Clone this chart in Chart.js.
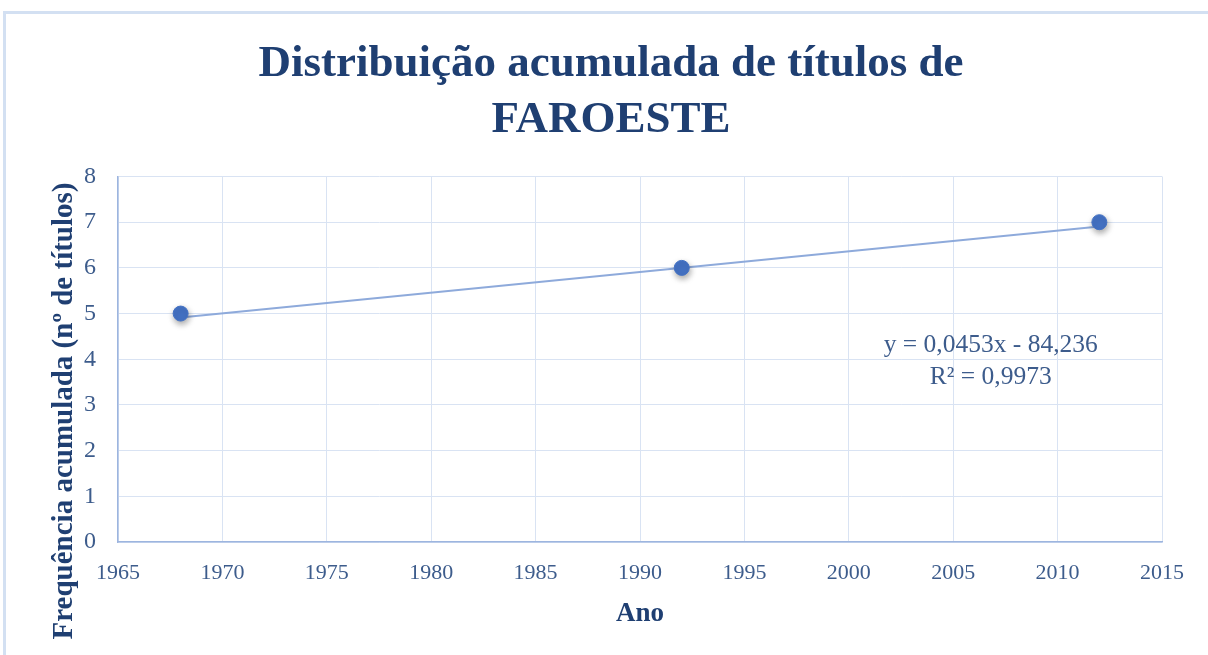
<!DOCTYPE html>
<html>
<head>
<meta charset="utf-8">
<script src="https://cdn.jsdelivr.net/npm/chart.js"></script>
<style>
  body { margin: 0; background: #fff; }
  #frame { position: absolute; left: 3px; top: 11px; width: 1220px; height: 700px;
           border-top: 3px solid #d3e0f2; border-left: 3px solid #d3e0f2; }
  #wrap { position: absolute; left: 0; top: 0; width: 1208px; height: 655px; }
</style>
</head>
<body>
<div id="frame"></div>
<div id="wrap"><canvas id="myChart"></canvas></div>
<script>
    const years = [1968, 1992, 2012];
    const counts = [5, 6, 7];
    const xMin = 1965, xMax = 2015, xStep = 5;
    const yMin = 0, yMax = 8, yStep = 1;
    const trendSlope = 0.0453;
    const trendIntercept = -84.236;
    const trendText = ['y = 0,0453x - 84,236', 'R² = 0,9973'];
    const trendTextAt = {x: 2006.8, y: 4.31};

    const titleLines = ['Distribuição acumulada de títulos de', 'FAROESTE'];
    const xTitle = 'Ano';
    const yTitle = 'Frequência acumulada (nº de títulos)';

    const serif = "'Liberation Serif', 'DejaVu Serif', serif";
    const dark = '#1f3f72';
    const tickColor = '#3d5c8c';

    const points = years.map((x, i) => ({x: x, y: counts[i]}));
    const trendEnds = [years[0], years[years.length - 1]].map(x => ({x: x, y: trendSlope * x + trendIntercept}));

    const shadowPlugin = {
        id: 'shadow',
        beforeDatasetDraw(chart, args) {
            if (args.index !== 0) return;
            const ctx = chart.ctx;
            ctx.save();
            ctx.shadowColor = 'rgba(0,0,0,0.35)';
            ctx.shadowBlur = 6;
            ctx.shadowOffsetX = 1;
            ctx.shadowOffsetY = 3;
        },
        afterDatasetDraw(chart, args) {
            if (args.index === 0) chart.ctx.restore();
        }
    };

    const textPlugin = {
        id: 'texts',
        afterDraw(chart) {
            const ctx = chart.ctx;
            const xs = chart.scales.x, ys = chart.scales.y;
            ctx.save();
            // trendline equation
            ctx.fillStyle = tickColor;
            ctx.font = '25.5px ' + serif;
            ctx.textAlign = 'center';
            ctx.textBaseline = 'middle';
            const ex = xs.getPixelForValue(trendTextAt.x);
            const ey = ys.getPixelForValue(trendTextAt.y);
            trendText.forEach((t, i) => ctx.fillText(t, ex, ey + i * 32));
            // y axis title
            ctx.fillStyle = dark;
            ctx.font = 'bold 29px ' + serif;
            ctx.translate(65, 411);
            ctx.rotate(-Math.PI / 2);
            ctx.fillText(yTitle, 0, 0);
            ctx.restore();
        }
    };

    const ctx = document.getElementById('myChart');
    const myChart = new Chart(ctx, {
        type: 'scatter',
        data: {
            datasets: [{
                label: 'Faroeste',
                data: points,
                backgroundColor: '#4472c4',
                borderColor: '#4472c4',
                pointRadius: 7.5,
                pointHoverRadius: 7.5,
                order: 0
            }, {
                label: 'Tendência',
                type: 'line',
                data: trendEnds,
                borderColor: '#8eaadb',
                borderWidth: 2,
                pointRadius: 0,
                fill: false,
                order: 1
            }]
        },
        options: {
            responsive: true,
            maintainAspectRatio: false,
            animation: false,
            layout: { padding: { left: 60, right: 46, top: 0, bottom: 0 } },
            plugins: {
                legend: { display: false },
                tooltip: { enabled: false },
                title: {
                    display: true,
                    text: titleLines,
                    color: dark,
                    font: { family: serif, size: 45, weight: 'bold', lineHeight: 1.25 },
                    padding: { top: 36, bottom: 28 }
                }
            },
            scales: {
                x: {
                    type: 'linear',
                    min: xMin, max: xMax,
                    ticks: { stepSize: xStep, color: tickColor, padding: 18,
                             font: { family: serif, size: 22 },
                             callback: v => String(v) },
                    grid: { color: '#d9e3f3', drawTicks: false },
                    border: { color: '#9db5df', width: 1.5 },
                    title: { display: true, text: xTitle, color: dark, padding: { top: 0, bottom: 25 },
                             font: { family: serif, size: 27, weight: 'bold' } },
                    afterFit(scale) { scale.height = 113; }
                },
                y: {
                    min: yMin, max: yMax,
                    ticks: { stepSize: yStep, color: tickColor, padding: 22,
                             font: { family: serif, size: 24 } },
                    grid: { color: '#d9e3f3', drawTicks: false },
                    border: { color: '#9db5df', width: 1.5 },
                    afterFit(scale) { scale.width = 58; }
                }
            }
        },
        plugins: [shadowPlugin, textPlugin]
    });
</script>
</body>
</html>
